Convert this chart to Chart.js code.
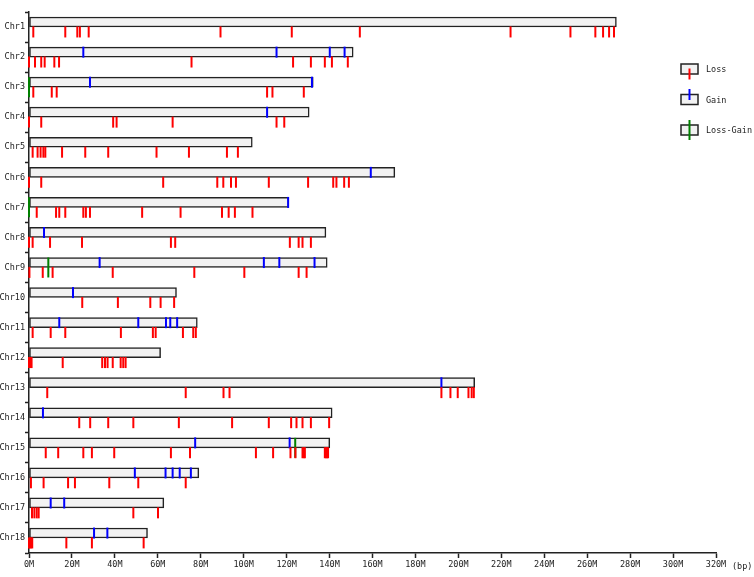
<!DOCTYPE html>
<html>
<head>
<meta charset="utf-8">
<script src="https://cdn.jsdelivr.net/npm/chart.js@4/dist/chart.umd.min.js"></script>
<style>
  body { margin: 0; background: #fff; }
  #wrap { width: 754px; height: 577px; position: relative; }
</style>
</head>
<body>
<div id="wrap"><canvas id="chr-chart"></canvas></div>
<script>
const chromosomes = ['Chr1', 'Chr2', 'Chr3', 'Chr4', 'Chr5', 'Chr6', 'Chr7', 'Chr8', 'Chr9',
    'Chr10', 'Chr11', 'Chr12', 'Chr13', 'Chr14', 'Chr15', 'Chr16', 'Chr17', 'Chr18'];

// chromosome length in M bp
const lengths = [273.6, 151.0, 132.4, 130.5, 104.0, 170.4, 121.0, 138.3, 138.9,
    68.7, 78.4, 61.3, 207.6, 141.2, 140.1, 79.1, 62.8, 55.2];

// positions (M bp) of CNV marks per chromosome
const lossMarks = [
    [2.0, 16.9, 22.5, 23.7, 27.8, 89.2, 122.4, 154.1, 224.3, 252.2, 263.8, 267.4, 270.2, 272.5],
    [0.0, 2.8, 5.7, 7.3, 11.8, 14.0, 75.7, 123.0, 131.3, 137.8, 141.1, 148.5],
    [2.0, 10.6, 12.9, 110.9, 113.4, 128.0],
    [0.0, 5.7, 39.2, 40.8, 66.9, 115.3, 118.9],
    [1.7, 4.0, 5.4, 6.7, 7.6, 15.4, 26.2, 36.9, 59.4, 74.5, 92.2, 97.3],
    [0.0, 5.7, 62.5, 87.7, 90.5, 94.1, 96.4, 111.7, 130.0, 141.7, 143.2, 146.8, 149.0],
    [3.6, 12.6, 14.1, 16.9, 25.3, 26.5, 28.4, 52.7, 70.6, 89.9, 93.0, 95.9, 104.1],
    [0.0, 1.7, 9.8, 24.7, 66.1, 68.1, 121.5, 125.6, 127.4, 131.3],
    [0.2, 6.4, 11.0, 39.0, 77.0, 100.3, 125.6, 129.3],
    [24.8, 41.4, 56.5, 61.3, 67.6],
    [1.7, 10.1, 16.9, 42.8, 57.7, 59.0, 71.7, 76.5, 77.7],
    [0.0, 0.6, 1.2, 15.7, 34.1, 35.4, 36.6, 39.0, 42.7, 43.9, 45.0],
    [8.5, 73.0, 90.6, 93.4, 192.1, 196.3, 199.7, 204.7, 206.2, 207.2],
    [23.4, 28.5, 36.9, 48.6, 69.8, 94.6, 111.7, 122.1, 124.6, 127.4, 131.3, 139.8],
    [7.8, 13.6, 25.3, 29.3, 39.7, 66.1, 75.0, 105.7, 113.7, 121.8, 124.1, 127.4, 128.0, 128.5, 137.8, 138.3, 138.8, 139.3],
    [0.9, 6.8, 18.2, 21.4, 37.4, 50.9, 73.0],
    [1.4, 2.5, 3.6, 4.5, 48.6, 60.1],
    [0.0, 0.5, 1.0, 1.5, 17.4, 29.3, 53.4]
];

const gainMarks = [
    [],
    [25.3, 115.3, 140.1, 147.0],
    [28.4, 131.8],
    [110.9],
    [],
    [159.2],
    [120.7],
    [7.0],
    [32.9, 109.4, 116.6, 133.0],
    [20.5],
    [14.1, 50.9, 63.8, 65.8, 69.0],
    [],
    [192.1],
    [6.5],
    [77.4, 121.4],
    [49.3, 63.6, 66.9, 70.2, 75.4],
    [10.1, 16.4],
    [30.3, 36.5]
];

const lossGainMarks = [
    [], [], [0.0], [], [], [], [0.0], [], [9.0],
    [], [], [], [], [], [124.0], [], [], []
];

const xTicks = [0, 20, 40, 60, 80, 100, 120, 140, 160, 180, 200, 220, 240, 260, 280, 300, 320];

const legendItems = [
    { label: 'Loss', color: '#ff0000', kind: 'loss' },
    { label: 'Gain', color: '#0000ff', kind: 'gain' },
    { label: 'Loss-Gain', color: '#008000', kind: 'both' }
];

const FONT = "'DejaVu Sans Mono', monospace";
const EDGE = 0.164; // half bar height in row units

function markPoints(marks, shift) {
    const pts = [];
    marks.forEach((list, i) => {
        list.forEach(pos => pts.push({ x: pos, y: i + 1 + shift }));
    });
    return pts;
}

function markDataset(label, marks, shift, color, radius) {
    return {
        type: 'scatter',
        label: label,
        indexAxis: 'x',
        xAxisID: 'x',
        yAxisID: 'y2',
        data: markPoints(marks, shift),
        pointStyle: 'line',
        rotation: 90,
        radius: radius,
        hoverRadius: radius,
        borderColor: color,
        backgroundColor: color,
        borderWidth: 2,
        showLine: false,
        clip: false,
        order: 1
    };
}

// legend and axis unit drawn beside the chart
const sideTexts = {
    id: 'sideTexts',
    afterDraw(chart) {
        const ctx = chart.ctx;
        ctx.save();
        ctx.font = '8.5px ' + FONT;
        ctx.fillStyle = '#222';
        ctx.textBaseline = 'middle';
        ctx.fillText('(bp)', 732, 567);

        legendItems.forEach((item, k) => {
            const top = 64 + k * 30.5;
            ctx.fillStyle = '#f2f2f2';
            ctx.fillRect(681, top, 17, 10);
            ctx.strokeStyle = '#222';
            ctx.lineWidth = 1.5;
            ctx.strokeRect(681, top, 17, 10);
            ctx.strokeStyle = item.color;
            ctx.lineWidth = 2;
            ctx.beginPath();
            if (item.kind === 'loss') {
                ctx.moveTo(689.5, top + 4.5);
                ctx.lineTo(689.5, top + 15.5);
            } else if (item.kind === 'gain') {
                ctx.moveTo(689.5, top - 5.5);
                ctx.lineTo(689.5, top + 5.5);
            } else {
                ctx.moveTo(689.5, top - 5);
                ctx.lineTo(689.5, top + 15);
            }
            ctx.stroke();
            ctx.fillStyle = '#222';
            ctx.fillText(item.label, 706, top + 6);
        });
        ctx.restore();
    }
};

const ctx = document.getElementById('chr-chart').getContext('2d');

new Chart(ctx, {
    type: 'bar',
    data: {
        labels: chromosomes,
        datasets: [
            {
                label: 'Chromosome',
                data: lengths.map(len => [0, len]),
                backgroundColor: '#f2f2f2',
                borderColor: '#222',
                borderWidth: 1.5,
                borderSkipped: false,
                barThickness: 10,
                order: 2
            },
            markDataset('Loss', lossMarks, EDGE, '#ff0000', 5.5),
            markDataset('Gain', gainMarks, -EDGE, '#0000ff', 5.5),
            markDataset('Loss-Gain', lossGainMarks, 0, '#008000', 10)
        ]
    },
    options: {
        indexAxis: 'y',
        responsive: true,
        maintainAspectRatio: false,
        animation: false,
        events: [],
        layout: { padding: { top: 3, right: 38, left: 0, bottom: 0 } },
        plugins: {
            legend: { display: false },
            tooltip: { enabled: false }
        },
        scales: {
            x: {
                type: 'linear',
                min: 0,
                max: 320,
                offset: false,
                afterBuildTicks: scale => { scale.ticks = xTicks.map(v => ({ value: v })); },
                afterFit: scale => { scale.height = 24; },
                border: { color: '#222', width: 1.5 },
                grid: { drawOnChartArea: false, tickLength: 5, color: '#222', tickWidth: 1.5 },
                ticks: {
                    padding: 2,
                    color: '#222',
                    font: { family: FONT, size: 8.5 },
                    maxRotation: 0,
                    callback: v => v + 'M'
                }
            },
            y: {
                type: 'category',
                offset: true,
                afterFit: scale => { scale.width = 29; },
                border: { color: '#222', width: 1.5 },
                grid: { offset: true, drawOnChartArea: false, tickLength: 4, color: '#222', tickWidth: 1.5 },
                ticks: {
                    padding: 0,
                    color: '#222',
                    font: { family: FONT, size: 8.5 }
                }
            },
            y2: {
                type: 'linear',
                display: false,
                offset: false,
                grid: { offset: false },
                min: 0.5,
                max: 18.5,
                reverse: true
            }
        }
    },
    plugins: [sideTexts]
});
</script>
</body>
</html>
